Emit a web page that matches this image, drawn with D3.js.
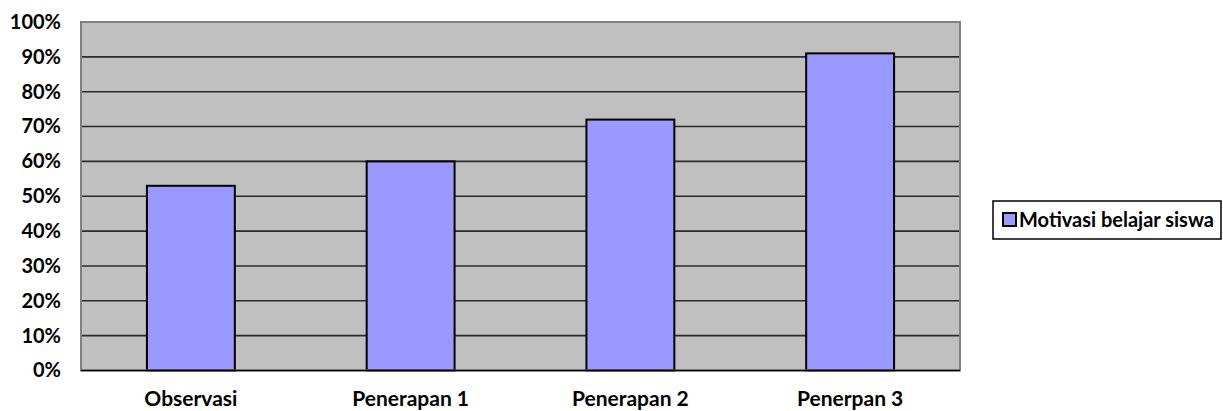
<!DOCTYPE html>
<html>
<head>
<meta charset="utf-8">
<script src="https://cdn.jsdelivr.net/npm/d3@7"></script>
<style>
  body { margin: 0; background: #fff; }
  text { font-family: Lato, "Open Sans", sans-serif; font-weight: bold; fill: #000; }
</style>
</head>
<body>
<svg id="chart" width="1223" height="411"></svg>
<script>
// data
var categories = ["Observasi", "Penerapan 1", "Penerapan 2", "Penerpan 3"];
var values = [53, 60, 72, 91];
var yTicks = [0, 10, 20, 30, 40, 50, 60, 70, 80, 90, 100];
var seriesName = "Motivasi belajar siswa";

var svg = d3.select('#chart');
var pLeft = 81, pRight = 960, pTop = 22, pBottom = 370.5;

var x = d3.scaleBand()
          .domain(categories)
          .range([pLeft, pRight])
          .paddingInner(0.6)
          .paddingOuter(0.3);
var y = d3.scaleLinear()
          .domain([0, 100])
          .range([pBottom, pTop]);

// plot area
svg.append('rect')
   .attr('x', pLeft).attr('y', pTop)
   .attr('width', pRight - pLeft).attr('height', pBottom - pTop)
   .style('fill', '#c0c0c0');

// gridlines
svg.selectAll('line.grid')
   .data(yTicks.filter(d => d > 0 && d < 100))
   .enter().append('line')
   .attr('class', 'grid')
   .attr('x1', pLeft).attr('x2', pRight)
   .attr('y1', d => y(d)).attr('y2', d => y(d))
   .style('stroke', '#2a2a2a')
   .style('stroke-width', 1.6);

// bars
svg.selectAll('rect.bar')
   .data(values)
   .enter().append('rect')
   .attr('class', 'bar')
   .attr('x', (d, i) => x(categories[i]))
   .attr('y', d => y(d))
   .attr('width', x.bandwidth())
   .attr('height', d => pBottom - y(d))
   .style('fill', '#9999ff')
   .style('stroke', '#000')
   .style('stroke-width', 2);

// plot border
svg.append('rect')
   .attr('x', pLeft).attr('y', pTop)
   .attr('width', pRight - pLeft).attr('height', pBottom - pTop)
   .style('fill', 'none')
   .style('stroke', '#808080')
   .style('stroke-width', 2);
svg.append('line')
   .attr('x1', pLeft).attr('x2', pRight)
   .attr('y1', pBottom).attr('y2', pBottom)
   .style('stroke', '#000').style('stroke-width', 1.5);

// y axis
var yAxis = d3.axisLeft(y)
              .tickValues(yTicks)
              .tickSize(0)
              .tickPadding(20)
              .tickFormat(d => d + '%');
svg.append('g')
   .attr('transform', 'translate(' + pLeft + ',0)')
   .call(yAxis)
   .call(g => g.select('.domain').remove())
   .selectAll('text')
   .style('font-size', '20px');

// x axis
var xAxis = d3.axisBottom(x).tickSize(0).tickPadding(21);
svg.append('g')
   .attr('transform', 'translate(0,' + pBottom + ')')
   .call(xAxis)
   .call(g => g.select('.domain').remove())
   .selectAll('text')
   .style('font-size', '21px');

// legend
var lg = svg.append('g').attr('transform', 'translate(993,201)');
lg.append('rect')
  .attr('width', 228).attr('height', 38)
  .style('fill', '#fff').style('stroke', '#000').style('stroke-width', 1.5);
lg.append('rect')
  .attr('x', 10).attr('y', 12).attr('width', 13).attr('height', 13)
  .style('fill', '#9999ff').style('stroke', '#000').style('stroke-width', 2);
lg.append('text')
  .attr('x', 26).attr('y', 26)
  .style('font-size', '20px')
  .text(seriesName);
</script>
</body>
</html>
